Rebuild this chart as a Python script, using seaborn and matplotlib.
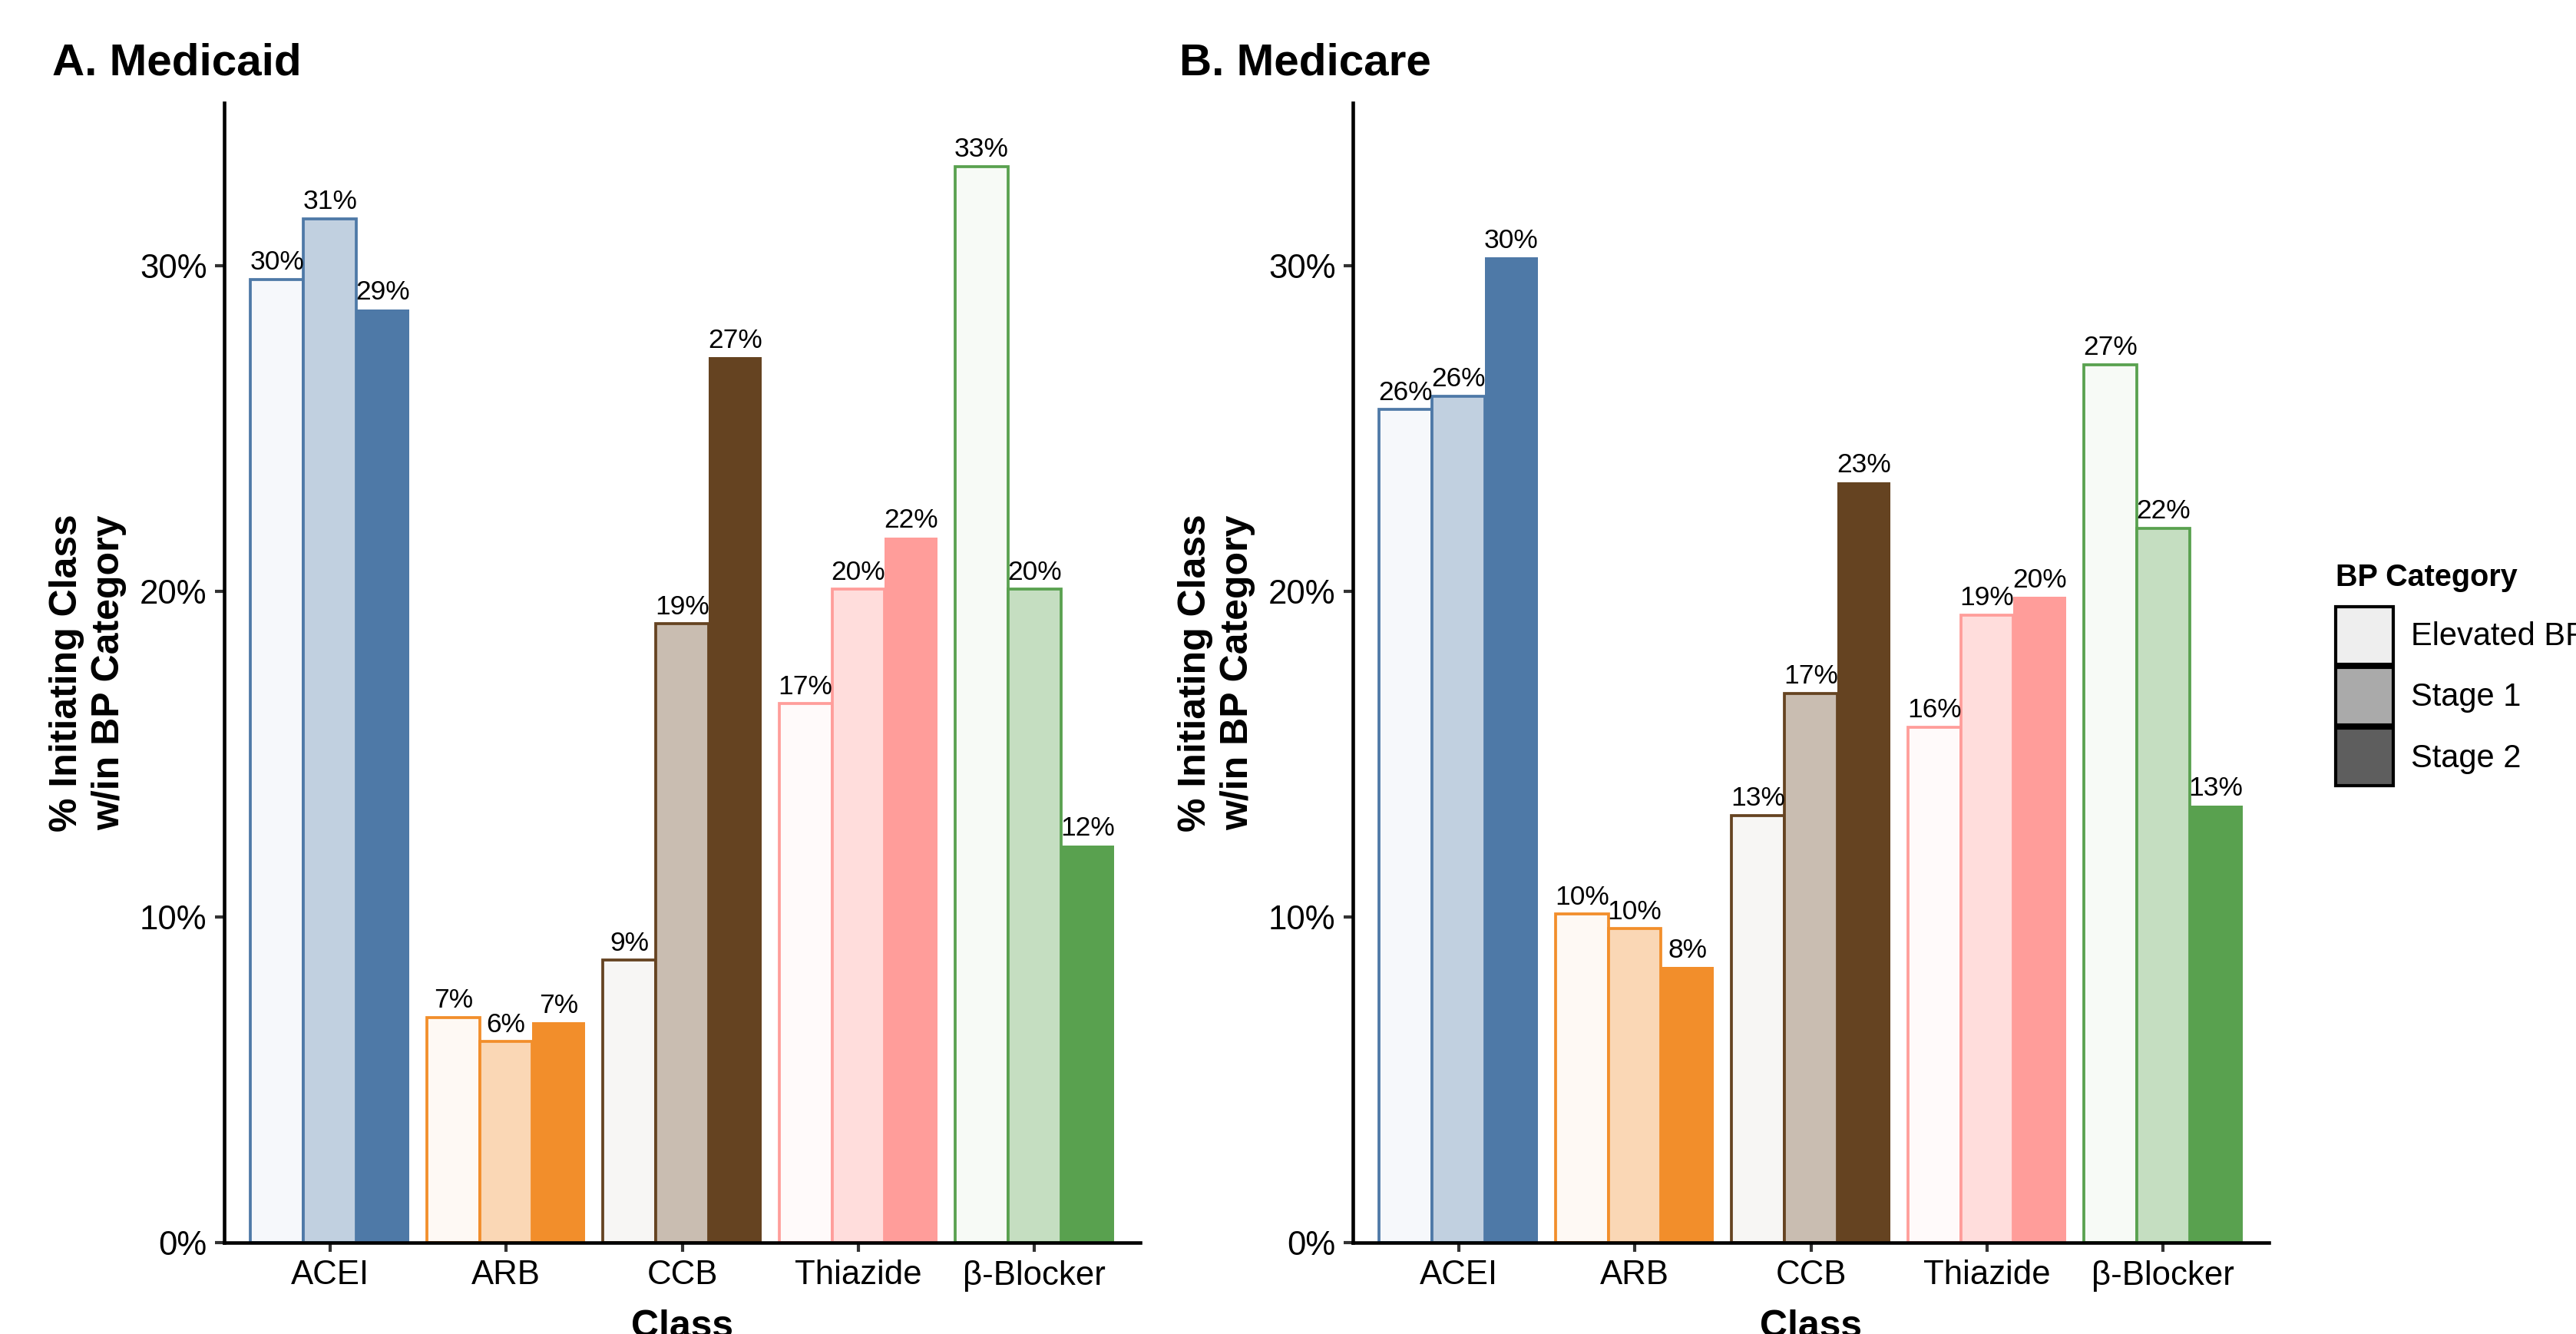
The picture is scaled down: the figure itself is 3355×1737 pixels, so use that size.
import matplotlib
matplotlib.use("Agg")
import matplotlib.pyplot as plt
import seaborn as sns
import pandas as pd
from matplotlib.patches import Patch
from matplotlib.colors import to_rgba

# ---------------- data ----------------
classes = ["ACEI", "ARB", "CCB", "Thiazide", "β-Blocker"]
bp_levels = ["Elevated BP", "Stage 1", "Stage 2"]

medicaid_elevated = [29.58, 6.92, 8.67, 16.55, 33.05]
medicaid_stage1 = [31.45, 6.17, 19.01, 20.06, 20.06]
medicaid_stage2 = [28.66, 6.77, 27.19, 21.66, 12.20]

medicare_elevated = [25.58, 10.09, 13.12, 15.83, 26.96]
medicare_stage1 = [26.00, 9.64, 16.87, 19.28, 21.94]
medicare_stage2 = [30.26, 8.46, 23.36, 19.83, 13.43]

y_ticks = [0, 10, 20, 30]
y_tick_labels = ["0%", "10%", "20%", "30%"]

class_colors = ["#4E79A7", "#F28E2B", "#654321", "#FF9D9A", "#59A14F"]
level_alpha = [0.05, 0.35, 1.0]
legend_colors = ["#EEEEEE", "#AAAAAA", "#5E5E5E"]

# ---------------- style ----------------
sns.set_style("ticks")
plt.rcParams["font.family"] = ["Liberation Sans", "DejaVu Sans"]
plt.rcParams["text.color"] = "black"
plt.rcParams["axes.labelcolor"] = "black"
plt.rcParams["xtick.color"] = "#333333"
plt.rcParams["ytick.color"] = "#333333"

W, H = 3355, 1737
fig = plt.figure(figsize=(W / 300, H / 300), dpi=300)


def rect(l, r, t, b):
    return [l / W, 1 - b / H, (r - l) / W, (b - t) / H]


def blend(c, a):
    r, g, b, _ = to_rgba(c)
    return (1 - a + a * r, 1 - a + a * g, 1 - a + a * b)


def draw(ax, elev, s1, s2):
    df = pd.DataFrame({
        "Class": classes * 3,
        "BP": [lvl for lvl in bp_levels for _ in classes],
        "Pct": elev + s1 + s2,
    })
    sns.barplot(data=df, x="Class", y="Pct", hue="BP", order=classes,
                hue_order=bp_levels, palette=legend_colors, width=0.9,
                errorbar=None, legend=False, ax=ax, saturation=1)
    for cont in ax.containers:
        for bar in cont.patches:
            cx = bar.get_x() + bar.get_width() / 2
            i = int(round(cx))
            j = int(round((cx - i) / 0.3)) + 1
            base = class_colors[i]
            bar.set_facecolor(blend(base, level_alpha[j]))
            bar.set_edgecolor(base)
            bar.set_linewidth(0.9 if j < 2 else 0.0)
        ax.bar_label(cont, labels=[f"{v:.0f}%" for v in cont.datavalues],
                     padding=1.3, fontsize=8.5, color="black")
    ax.set_xlim(-0.6, 4.6)
    ax.set_ylim(0, 35)
    ax.set_yticks(y_ticks)
    ax.set_yticklabels(y_tick_labels)
    sns.despine(ax=ax)
    for s in ("left", "bottom"):
        ax.spines[s].set_linewidth(1.1)
        ax.spines[s].set_color("black")
    ax.tick_params(length=2.9, width=1.0, color="#333333", labelsize=10.5,
                   pad=2.5, labelcolor="black")
    ax.set_xlabel("Class", fontsize=12, fontweight="bold", va="top",
                  color="black")
    ax.xaxis.set_label_coords(0.5, -0.0586)
    ax.set_ylabel("% Initiating Class\nw/in BP Category", fontsize=12,
                  fontweight="bold", linespacing=1.25, va="center",
                  ha="center", color="black")
    ax.yaxis.set_label_coords(-177 / 1193, 0.5)


axA = fig.add_axes(rect(292, 1485, 134, 1618))
axB = fig.add_axes(rect(1762, 2955, 134, 1618))
draw(axA, medicaid_elevated, medicaid_stage1, medicaid_stage2)
draw(axB, medicare_elevated, medicare_stage1, medicare_stage2)

fig.text(68 / W, 1 - 97 / H, "A. Medicaid", fontsize=14, fontweight="bold",
         ha="left", va="baseline", color="black")
fig.text(1536 / W, 1 - 97 / H, "B. Medicare", fontsize=14, fontweight="bold",
         ha="left", va="baseline", color="black")

# legend
fig.text(3042 / W, 1 - 763 / H, "BP Category", fontsize=9.5, fontweight="bold",
         ha="left", va="baseline", color="black")
handles = [Patch(facecolor=c, edgecolor="black", linewidth=1.0) for c in legend_colors]
fig.legend(handles=handles, labels=bp_levels, loc="upper left",
           bbox_to_anchor=(3042 / W, 1 - 790 / H), frameon=False, borderpad=0,
           borderaxespad=0, handlelength=1.8, handleheight=2.39,
           labelspacing=0.1, handletextpad=0.55, fontsize=10,
           labelcolor="black")

fig.savefig("out.png", dpi=300)
